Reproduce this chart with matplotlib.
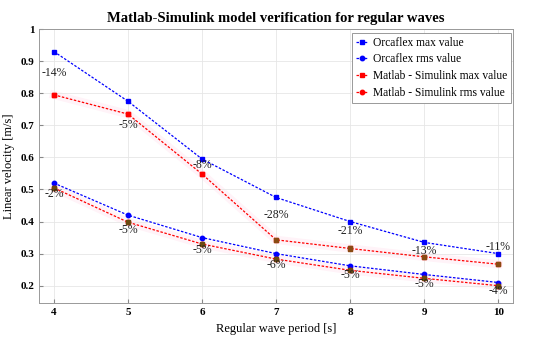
import numpy as np
import matplotlib.pyplot as plt

plt.rcParams['font.family'] = ['Liberation Serif', 'DejaVu Serif']

periods = [4, 5, 6, 7, 8, 9, 10]
orca_max = [0.930, 0.775, 0.595, 0.475, 0.400, 0.335, 0.300]
orca_rms = [0.520, 0.420, 0.350, 0.300, 0.262, 0.235, 0.210]
sim_max = [0.795, 0.735, 0.548, 0.343, 0.316, 0.290, 0.267]
sim_rms = [0.505, 0.398, 0.330, 0.283, 0.248, 0.223, 0.200]
max_labels = ['-14%', '-5%', '-8%', '-28%', '-21%', '-13%', '-11%']
rms_labels = ['-2%', '-5%', '-5%', '-6%', '-5%', '-5%', '-4%']
max_label_y = [0.862, 0.700, 0.575, 0.420, 0.370, 0.307, 0.322]
rms_label_y = [0.487, 0.375, 0.310, 0.265, 0.232, 0.205, 0.183]

fig = plt.figure(figsize=(5.5, 3.42), dpi=100)
ax = fig.add_axes([0.071, 0.113, 0.862, 0.802])

dash = (0, (2, 1.3))

# faint pink band behind the simulink lines
ax.plot(periods, sim_max, color='#ff66aa', lw=6, alpha=0.08, zorder=1)
ax.plot(periods, sim_rms, color='#ff66aa', lw=6, alpha=0.08, zorder=1)

ax.plot(periods, orca_max, ls=dash, color='blue', lw=0.9, marker='s', ms=3.2,
        label='Orcaflex max value', zorder=3)
ax.plot(periods, orca_rms, ls=dash, color='blue', lw=0.9, marker='o', ms=3.2,
        label='Orcaflex rms value', zorder=3)
ax.plot(periods, sim_max, ls=dash, color='red', lw=0.9, marker='s', ms=3.2,
        label='Matlab - Simulink max value', zorder=3)
ax.plot(periods, sim_rms, ls=dash, color='red', lw=0.9, marker='o', ms=3.2,
        label='Matlab - Simulink rms value', zorder=3)

# markers look brownish where the lines overlap
max_cols = ['red', 'red', 'red', '#8a4a12', '#8a4a12', '#8a4a12', '#8a4a12']
ax.scatter(periods, sim_max, marker='s', s=9, c=max_cols, zorder=4)
ax.scatter(periods, sim_rms, marker='s', s=9, c='#6b4a10', zorder=4)

for x, y, t in zip(periods, max_label_y, max_labels):
    ax.text(x, y, t, ha='center', va='center', fontsize=8.5, color='#222222', zorder=5)
for x, y, t in zip(periods, rms_label_y, rms_labels):
    ax.text(x, y, t, ha='center', va='center', fontsize=8.5, color='#222222', zorder=5)

ax.set_xlim(3.8, 10.2)
ax.set_ylim(0.145, 1.0)
ax.set_xticks(periods)
ax.set_yticks([0.2, 0.3, 0.4, 0.5, 0.6, 0.7, 0.8, 0.9, 1.0])
ax.set_yticklabels(['0.2', '0.3', '0.4', '0.5', '0.6', '0.7', '0.8', '0.9', '1'])
ax.tick_params(labelsize=8, direction='in', length=3, color='#888888')
for lab in ax.get_xticklabels() + ax.get_yticklabels():
    lab.set_fontweight('bold')
ax.grid(True, color='#e6e6e6', lw=0.6)
for s in ax.spines.values():
    s.set_color('#999999')
    s.set_linewidth(0.7)

ax.set_xlabel('Regular wave period [s]', fontsize=9)
ax.set_ylabel('Linear velocity [m/s]', fontsize=9)
ax.set_title('Matlab-Simulink model verification for regular waves',
             fontsize=10.5, fontweight='bold', pad=5)

leg = ax.legend(loc='upper right', fontsize=8.3, fancybox=False, framealpha=1,
                edgecolor='#999999', handlelength=1.0, handletextpad=0.4,
                borderpad=0.35, labelspacing=0.4,
                bbox_to_anchor=(1.0, 0.995), borderaxespad=0.2)
leg.get_frame().set_linewidth(0.7)

plt.savefig('out.png', dpi=100)
